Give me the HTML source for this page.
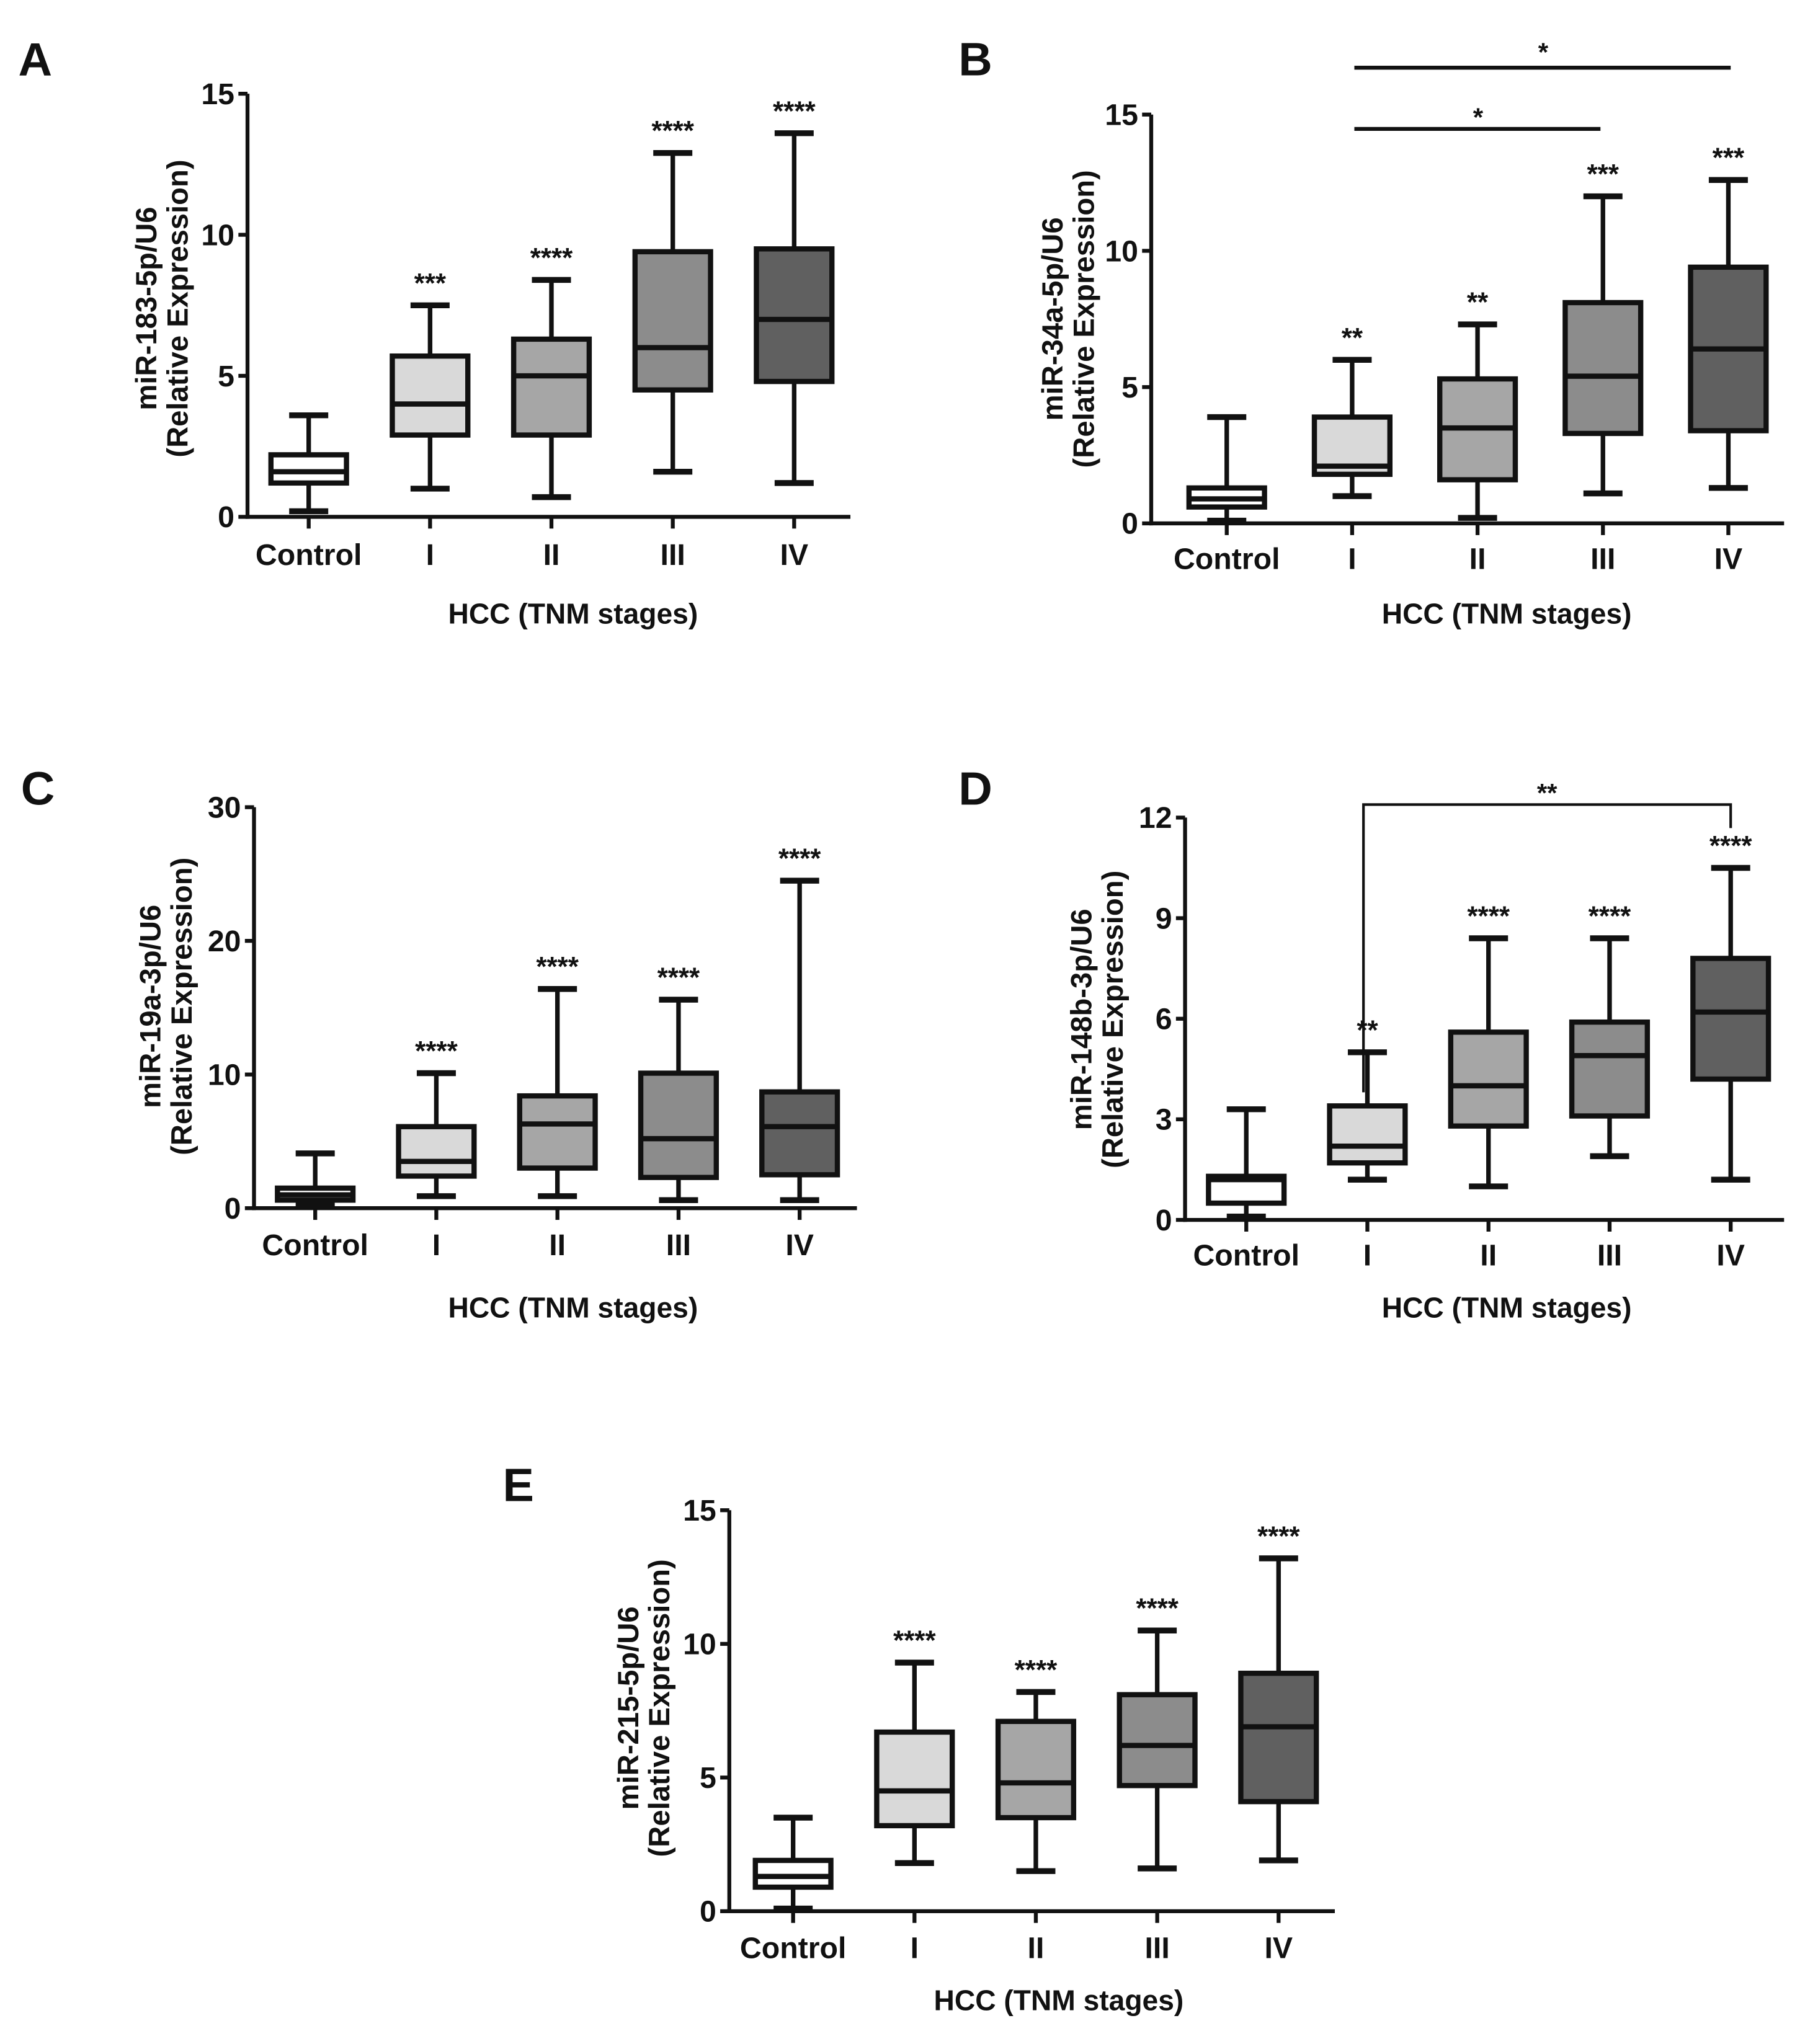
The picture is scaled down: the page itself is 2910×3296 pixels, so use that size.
<!DOCTYPE html>
<html><head><meta charset="utf-8">
<style>
html,body{margin:0;padding:0;background:#fff;}
svg{display:block;}
text{font-family:"Liberation Sans",Arial,sans-serif;font-weight:bold;fill:#111;}
</style></head>
<body>
<svg id="fig" width="2910" height="3296" viewBox="0 0 1386 1570" xmlns="http://www.w3.org/2000/svg"></svg>
<script>
const categories = ["Control","I","II","III","IV"];
const fills = ["#ffffff","#d9d9d9","#a6a6a6","#8c8c8c","#606060"];
// [min, q1, median, q3, max] per category
const boxesA = [[0.2,1.2,1.6,2.2,3.6],[1.0,2.9,4.0,5.7,7.5],[0.7,2.9,5.0,6.3,8.4],[1.6,4.5,6.0,9.4,12.9],[1.2,4.8,7.0,9.5,13.6]];
const boxesB = [[0.1,0.6,0.9,1.3,3.9],[1.0,1.8,2.1,3.9,6.0],[0.2,1.6,3.5,5.3,7.3],[1.1,3.3,5.4,8.1,12.0],[1.3,3.4,6.4,9.4,12.6]];
const boxesC = [[0.2,0.6,1.0,1.5,4.1],[0.9,2.4,3.5,6.1,10.1],[0.9,3.0,6.3,8.4,16.4],[0.6,2.3,5.2,10.1,15.6],[0.6,2.5,6.1,8.7,24.5]];
const boxesD = [[0.1,0.5,1.2,1.3,3.3],[1.2,1.7,2.2,3.4,5.0],[1.0,2.8,4.0,5.6,8.4],[1.9,3.1,4.9,5.9,8.4],[1.2,4.2,6.2,7.8,10.5]];
const boxesE = [[0.1,0.9,1.3,1.9,3.5],[1.8,3.2,4.5,6.7,9.3],[1.5,3.5,4.8,7.1,8.2],[1.6,4.7,6.2,8.1,10.5],[1.9,4.1,6.9,8.9,13.2]];
const starsA = ["","***","****","****","****"];
const starsB = ["","**","**","***","***"];
const starsC = ["","****","****","****","****"];
const starsD = ["","**","****","****","****"];
const starsE = ["","****","****","****","****"];
const ticksA = [0,5,10,15];
const ticksB = [0,5,10,15];
const ticksC = [0,10,20,30];
const ticksD = [0,3,6,9,12];
const ticksE = [0,5,10,15];

const NS="http://www.w3.org/2000/svg";
const svg=document.getElementById('fig');
function mk(tag,attrs,parent){const e=document.createElementNS(NS,tag);for(const k in attrs)e.setAttribute(k,attrs[k]);(parent||svg).appendChild(e);return e;}
function txt(s,attrs,parent){const e=mk('text',attrs,parent);e.textContent=s;return e;}

const panels=[
 {id:'a',letter:'A',lx:14,ly:58,ax:190,x1:653,y0:397,ytop:72,ymax:15,cx:237,dx:93.2,boxes:boxesA,stars:starsA,ticks:ticksA,ytitle:'miR-183-5p/U6',tx:125,tyc:237,catY:425,titleY:471,titleX:440},
 {id:'b',letter:'B',lx:736,ly:58,ax:884,x1:1370,y0:402,ytop:88,ymax:15,cx:942,dx:96.3,boxes:boxesB,stars:starsB,ticks:ticksB,ytitle:'miR-34a-5p/U6',tx:821,tyc:245,catY:428,titleY:471,titleX:1157},
 {id:'c',letter:'C',lx:16,ly:618,ax:195,x1:658,y0:928,ytop:620,ymax:30,cx:242,dx:93,boxes:boxesC,stars:starsC,ticks:ticksC,ytitle:'miR-19a-3p/U6',tx:128,tyc:773,catY:955,titleY:1004,titleX:440},
 {id:'d',letter:'D',lx:736,ly:618,ax:910,x1:1370,y0:937,ytop:628,ymax:12,cx:957,dx:93,boxes:boxesD,stars:starsD,ticks:ticksD,ytitle:'miR-148b-3p/U6',tx:843,tyc:783,catY:963,titleY:1004,titleX:1157},
 {id:'e',letter:'E',lx:386,ly:1153,ax:560,x1:1025,y0:1468,ytop:1160,ymax:15,cx:609,dx:93.2,boxes:boxesE,stars:starsE,ticks:ticksE,ytitle:'miR-215-5p/U6',tx:495,tyc:1312,catY:1495,titleY:1536,titleX:813}
];

panels.forEach(p=>{
 const g=mk('g',{});
 
 
 const Y=v=>p.y0-(v/p.ymax)*(p.y0-p.ytop);
 const X=i=>p.cx+i*p.dx;
 const L=txt(p.letter,{x:p.lx,y:p.ly,'font-size':36},g);
 
 
 const ya=mk('line',{x1:p.ax,y1:p.ytop,x2:p.ax,y2:p.y0+1.5,stroke:'#111','stroke-width':3},g);
 
 
 const xa=mk('line',{x1:p.ax-1.5,y1:p.y0,x2:p.x1,y2:p.y0,stroke:'#111','stroke-width':3},g);
 
 
 p.ticks.forEach(t=>{
  mk('line',{x1:p.ax-7,y1:Y(t),x2:p.ax,y2:Y(t),stroke:'#111','stroke-width':3},g);
  const tl=txt(String(t),{x:p.ax-10,y:Y(t)+8,'font-size':23,'text-anchor':'end'},g);
  
  
 });
 const yt=txt('',{transform:`translate(${p.tx},${p.tyc}) rotate(-90)`,'font-size':22.5,'text-anchor':'middle'},g);
 
 
 const s1=mk('tspan',{x:0,y:-5},yt);s1.textContent=p.ytitle;
 const s2=mk('tspan',{x:0,y:19},yt);s2.textContent='(Relative Expression)';
 categories.forEach((c,i)=>{
  const b=p.boxes[i];const x=X(i);const w=58;
  mk('line',{x1:x,y1:p.y0,x2:x,y2:p.y0+9,stroke:'#111','stroke-width':3},g);
  const cl=txt(c,{x:x,y:p.catY+9,'font-size':23,'text-anchor':'middle'},g);
  
  
  const bg=mk('g',{},g);
  
  
  mk('line',{x1:x,y1:Y(b[0]),x2:x,y2:Y(b[4]),stroke:'#111','stroke-width':3.5},bg);
  mk('line',{x1:x-15,y1:Y(b[0]),x2:x+15,y2:Y(b[0]),stroke:'#111','stroke-width':4.5},bg);
  mk('line',{x1:x-15,y1:Y(b[4]),x2:x+15,y2:Y(b[4]),stroke:'#111','stroke-width':4.5},bg);
  mk('rect',{x:x-w/2,y:Y(b[3]),width:w,height:Y(b[1])-Y(b[3]),fill:fills[i],stroke:'#111','stroke-width':4},bg);
  mk('line',{x1:x-w/2,y1:Y(b[2]),x2:x+w/2,y2:Y(b[2]),stroke:'#111','stroke-width':4},bg);
  if(p.stars[i]){
   const st=txt(p.stars[i],{x:x,y:Y(b[4])-10,'font-size':21,'text-anchor':'middle'},g);
   
   
  }
 });
 const ti=txt('HCC (TNM stages)',{x:p.titleX,y:p.titleY+8,'font-size':22,'text-anchor':'middle'},g);
 
 
 p.X=X;p.Y=Y;p.g=g;
});
(function(){
 const b=panels[1];
 const l1=mk('line',{x1:1040,y1:99,x2:1229,y2:99,stroke:'#111','stroke-width':3},b.g);
 
 
 txt('*',{x:1135,y:97,'font-size':20,'text-anchor':'middle'},b.g);
 const l2=mk('line',{x1:1040,y1:52,x2:1329,y2:52,stroke:'#111','stroke-width':3},b.g);
 
 
 txt('*',{x:1185,y:47,'font-size':20,'text-anchor':'middle'},b.g);
 const d=panels[3];
 const br=mk('polyline',{points:'1047,839 1047,618 1329,618 1329,636',fill:'none',stroke:'#111','stroke-width':2},d.g);
 
 
 txt('**',{x:1188,y:616,'font-size':20,'text-anchor':'middle'},d.g);
})();
</script>
</body></html>
